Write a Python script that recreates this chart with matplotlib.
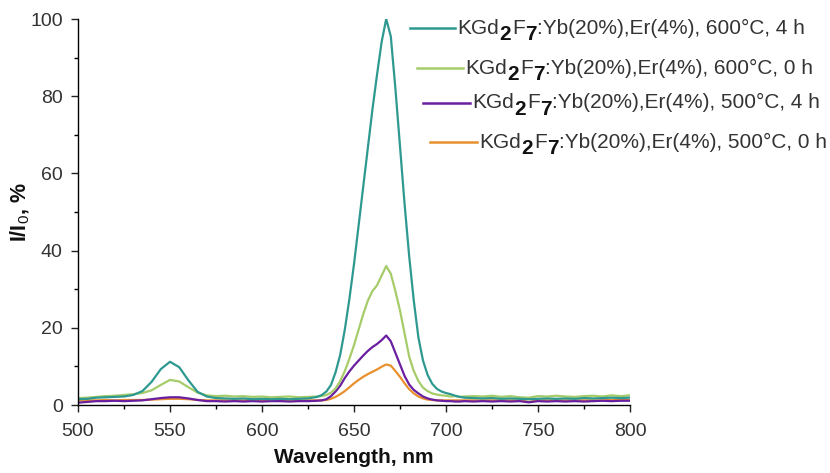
import numpy as np
import matplotlib
matplotlib.use("Agg")
import matplotlib.pyplot as plt
from matplotlib.lines import Line2D
from matplotlib.ticker import MultipleLocator

plt.rcParams['font.family'] = ['Liberation Sans', 'DejaVu Sans']
plt.rcParams['mathtext.fontset'] = 'custom'
plt.rcParams['mathtext.rm'] = 'Liberation Sans'
plt.rcParams['mathtext.bf'] = 'Liberation Sans:bold'

# wavelength grid (nm)
wavelength = np.r_[np.arange(500, 630.1, 5), np.arange(632.5, 710.1, 2.5), np.arange(715, 800.1, 5)]

teal_600_4h = [1.5, 1.6, 1.9, 2.0, 2.1, 2.2, 2.6, 3.6, 6.0, 9.3, 11.2, 9.8, 6.4, 3.4, 2.2, 1.8, 1.7, 1.6, 1.7, 1.5,
               1.6, 1.5, 1.6, 1.5, 1.6, 1.7, 2.1,
               2.6, 3.5, 5.2, 8.5, 13.0, 19.5, 27.5, 36.5, 46.5, 56.5, 66.5, 76.5, 85.5, 94.0, 100.0, 95.5,
               82.0, 67.0, 52.0, 38.5, 27.0, 17.5, 11.5, 7.8, 5.5, 4.2, 3.5, 3.1, 2.8, 2.4, 2.1, 1.9,
               1.8, 1.7, 1.8, 1.6, 1.7, 1.6, 1.5, 1.6, 1.7, 1.6, 1.7, 1.6, 1.8, 1.7, 1.8, 1.9, 1.8, 1.9]
green_600_0h = [1.8, 1.9, 2.1, 2.3, 2.4, 2.6, 2.8, 3.1, 3.8, 5.2, 6.5, 6.1, 4.6, 3.2, 2.5, 2.3, 2.4, 2.2, 2.3, 2.1,
                2.2, 2.0, 2.1, 2.2, 2.0, 2.1, 2.2,
                2.3, 2.6, 3.2, 4.3, 6.2, 8.8, 12.0, 15.5, 19.5, 23.5, 27.0, 29.5, 31.0, 33.5, 36.0, 34.0,
                29.5, 24.5, 18.5, 12.5, 8.8, 6.2, 4.5, 3.6, 3.0, 2.7, 2.5, 2.4, 2.2, 2.3, 2.1, 2.2,
                2.3, 2.2, 2.4, 2.1, 2.3, 2.0, 1.9, 2.3, 2.2, 2.4, 2.2, 2.1, 2.3, 2.4, 2.2, 2.5, 2.3, 2.5]
purple_500_4h = [0.6, 0.8, 1.0, 1.0, 1.1, 1.0, 1.1, 1.2, 1.5, 1.8, 2.0, 2.0, 1.7, 1.3, 1.0, 1.0, 0.9, 1.0, 0.9, 1.0,
                 0.9, 1.0, 1.0, 0.9, 1.0, 1.0, 1.1,
                 1.2, 1.5, 2.3, 3.5, 5.0, 7.0, 8.7, 10.2, 11.5, 12.8, 14.0, 15.0, 15.8, 16.8, 18.0, 16.5,
                 13.5, 10.5, 7.5, 5.3, 3.9, 3.0, 2.2, 1.7, 1.4, 1.2, 1.1, 1.0, 1.0, 0.9, 0.9, 1.0,
                 0.9, 1.0, 0.9, 1.0, 0.9, 1.0, 0.7, 1.0, 0.9, 1.0, 0.9, 1.0, 0.9, 1.0, 1.1, 1.0, 1.1, 1.1]
orange_500_0h = [1.2, 1.2, 1.2, 1.3, 1.2, 1.3, 1.3, 1.3, 1.4, 1.5, 1.6, 1.6, 1.5, 1.3, 1.2, 1.2, 1.2, 1.2, 1.2, 1.2,
                 1.2, 1.2, 1.2, 1.2, 1.2, 1.2, 1.2,
                 1.2, 1.3, 1.6, 2.1, 2.8, 3.6, 4.6, 5.6, 6.5, 7.3, 8.0, 8.6, 9.2, 9.9, 10.5, 10.2,
                 8.8, 7.3, 5.6, 4.1, 3.0, 2.2, 1.7, 1.4, 1.3, 1.2, 1.2, 1.2, 1.2, 1.2, 1.2, 1.2,
                 1.2, 1.2, 1.2, 1.2, 1.2, 1.2, 0.8, 1.2, 1.2, 1.2, 1.2, 1.2, 1.2, 1.2, 1.2, 1.3, 1.3, 1.3]

series = [teal_600_4h, green_600_0h, purple_500_4h, orange_500_0h]
colors = ['#2E9990', '#A6CC6A', '#6A1FA0', '#E8902E']
conditions = ['600°C, 4 h', '600°C, 0 h', '500°C, 4 h', '500°C, 0 h']
x_ticks = [500, 550, 600, 650, 700, 750, 800]
y_ticks = [0, 20, 40, 60, 80, 100]

W, H = 830, 473
fig = plt.figure(figsize=(W / 100, H / 100), dpi=100)
ax = fig.add_axes([78 / W, 1 - 405 / H, (630 - 78) / W, (405 - 19) / H])

for vals, c in zip(series[::-1], colors[::-1]):
    ax.plot(wavelength, vals, color=c, lw=1.6, solid_joinstyle='round')

ax.set_xlim(500, 800)
ax.set_ylim(0, 100)
ax.set_xticks(x_ticks)
ax.set_yticks(y_ticks)
ax.xaxis.set_minor_locator(MultipleLocator(25))
ax.yaxis.set_minor_locator(MultipleLocator(10))
for s in ['top', 'right']:
    ax.spines[s].set_visible(False)
for s in ['left', 'bottom']:
    ax.spines[s].set_linewidth(1.0)
ax.tick_params(which='major', direction='out', length=5, width=1, labelsize=14, colors='#222222', labelcolor='#333333')
ax.tick_params(which='minor', direction='out', length=3, width=1)
ax.tick_params(axis='x', pad=8)
ax.tick_params(axis='y', pad=6)
ax.set_xlabel('Wavelength, nm', fontsize=15, fontweight='bold', labelpad=6, color='#111111')
ax.set_ylabel('I/I$_{\\mathrm{0}}$, %', fontsize=15.5, fontweight='bold', color='#111111')
ax.yaxis.set_label_coords(-0.083, 0.5)

# staggered legend (Origin style)
fs = 15
entries = [(410, 455, 28), (417, 463, 68), (423, 470, 103), (430, 477, 142)]
for (x0, x1, yp), c, cond in zip(entries, colors, conditions):
    yf = 1 - yp / H
    fig.add_artist(Line2D([x0 / W, x1 / W], [yf, yf], transform=fig.transFigure, color=c, lw=1.8))
    t = fig.text((x1 + 2) / W, yf, 'KGd', fontsize=fs, va='center', ha='left', color='#333333')
    a = ax.annotate('2', xy=(1, 0), xycoords=t, xytext=(0.5, -5), textcoords='offset points',
                    va='bottom', ha='left', fontsize=fs, fontweight='bold', color='#111111', annotation_clip=False)
    b = ax.annotate('F', xy=(1, 0), xycoords=a, xytext=(0.5, 5), textcoords='offset points',
                    va='bottom', ha='left', fontsize=fs, color='#333333', annotation_clip=False)
    d = ax.annotate('7', xy=(1, 0), xycoords=b, xytext=(0.5, -5), textcoords='offset points',
                    va='bottom', ha='left', fontsize=fs, fontweight='bold', color='#111111', annotation_clip=False)
    ax.annotate(':Yb(20%),Er(4%), ' + cond, xy=(1, 0), xycoords=d, xytext=(0, 5), textcoords='offset points',
                va='bottom', ha='left', fontsize=fs, color='#333333', annotation_clip=False)

fig.savefig('out.png', dpi=100)
